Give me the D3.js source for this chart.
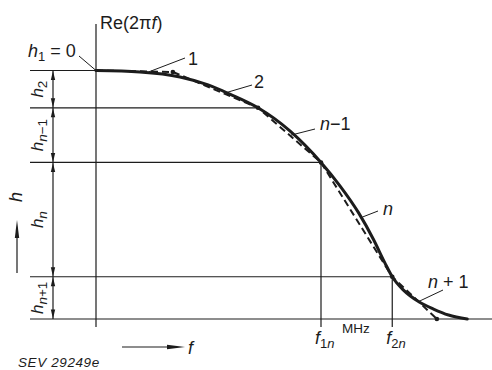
<!DOCTYPE html>
<html>
<head>
<meta charset="utf-8">
<script src="https://cdn.jsdelivr.net/npm/d3@7"></script>
<style>
  body { margin: 0; background: #fff; }
  svg { display: block; }
  text { font-family: "Liberation Sans", "DejaVu Sans", sans-serif; fill: #1c1c1c; }
</style>
</head>
<body>
<script>
// Real part of the transfer function Re(2πf) against frequency f (arbitrary MHz units)
const freq     = [0, 1.17, 2.24, 2.99, 3.57, 4.32, 5.17, 6.0, 6.5, 7.0, 7.4, 7.7, 7.9, 8.2, 8.6, 9.0, 9.4, 9.9];
const response = [1, 0.994, 0.974, 0.942, 0.905, 0.85, 0.757, 0.63, 0.537, 0.428, 0.32, 0.227, 0.17, 0.116, 0.07, 0.04, 0.016, 0];

// Straight-line segments 1, 2, …, n−1, n, n+1 approximating the curve
const approxFreq = [0, 2.05, 4.32, 6.0, 7.9, 9.09];
const approxResp = [1, 0.994, 0.85, 0.63, 0.17, 0];

// Step levels h1 = 0 … and where each level meets the curve
const levels    = [1, 0.85, 0.63, 0.17, 0];
const levelFreq = [0, 4.32, 6.0, 7.9, 10.6];
const stepNames = ["2", "n−1", "n", "n+1"];

// Marked frequencies on the f axis
const markFreq  = [6.0, 7.9];
const markLevel = [0.63, 0.17];
const markNames = ["1n", "2n"];

const W = 492, H = 370;
const svg = d3.select("body").append("svg").attr("width", W).attr("height", H);

const x = d3.scaleLinear().domain([0, 10]).range([96, 471]);
const y = d3.scaleLinear().domain([0, 1]).range([319, 70.5]);

const ink = "#1c1c1c";
const thin = 1.2;

// level lines
levels.forEach((lv, i) => {
  svg.append("line")
    .attr("x1", 30).attr("x2", x(levelFreq[i]))
    .attr("y1", y(lv)).attr("y2", y(lv))
    .attr("stroke", ink).attr("stroke-width", thin);
});

// Re axis
svg.append("line")
  .attr("x1", x(0)).attr("x2", x(0))
  .attr("y1", 24).attr("y2", y(0) + 8)
  .attr("stroke", ink).attr("stroke-width", thin);

// frequency marks
markFreq.forEach((f, i) => {
  svg.append("line")
    .attr("x1", x(f)).attr("x2", x(f))
    .attr("y1", y(markLevel[i])).attr("y2", y(0) + 8)
    .attr("stroke", ink).attr("stroke-width", thin);
});

// filled arrowhead helper: tip at (tx,ty), direction (dx,dy)
function arrowHead(g, tx, ty, dx, dy, len, half) {
  const bx = tx - dx * len, by = ty - dy * len;
  const px = -dy * half, py = dx * half;
  g.append("path")
    .attr("d", `M${tx},${ty}L${bx + px},${by + py}L${bx - px},${by - py}Z`)
    .attr("fill", ink);
}

// dimension line with step heights
const dimX = 53;
svg.append("line")
  .attr("x1", dimX).attr("x2", dimX)
  .attr("y1", y(levels[0])).attr("y2", y(levels[levels.length - 1]))
  .attr("stroke", ink).attr("stroke-width", thin);
for (let i = 0; i < levels.length - 1; i++) {
  const yTop = y(levels[i]), yBot = y(levels[i + 1]);
  arrowHead(svg, dimX, yTop + 0.5, 0, -1, 9, 2.2);
  arrowHead(svg, dimX, yBot - 0.5, 0, 1, 9, 2.2);
  const t = svg.append("text")
    .attr("transform", `translate(43,${(yTop + yBot) / 2}) rotate(-90)`)
    .attr("text-anchor", "middle")
    .attr("font-size", 17);
  t.append("tspan").attr("font-style", "italic").text("h");
  const sub = stepNames[i];
  const st = t.append("tspan").attr("font-size", 13.5).attr("dy", 4);
  if (sub.startsWith("n")) {
    st.append("tspan").attr("font-style", "italic").text("n");
    if (sub.length > 1) st.append("tspan").text(sub.slice(1));
  } else {
    st.text(sub);
  }
}

// polygonal approximation (dashed)
const approx = approxFreq.map((f, i) => ({ f, r: approxResp[i] }));
svg.append("path")
  .datum(approx)
  .attr("d", d3.line().x(d => x(d.f)).y(d => y(d.r)))
  .attr("fill", "none").attr("stroke", ink)
  .attr("stroke-width", 2).attr("stroke-dasharray", "7,4");
svg.selectAll("circle.vertex")
  .data(approx.slice(1))
  .join("circle")
  .attr("class", "vertex")
  .attr("cx", d => x(d.f)).attr("cy", d => y(d.r))
  .attr("r", 2.3).attr("fill", ink);

// response curve (solid)
const curve = freq.map((f, i) => ({ f, r: response[i] }));
svg.append("path")
  .datum(curve)
  .attr("d", d3.line().x(d => x(d.f)).y(d => y(d.r)).curve(d3.curveMonotoneX))
  .attr("fill", "none").attr("stroke", ink)
  .attr("stroke-width", 3).attr("stroke-linecap", "round");

// leader lines from labels to the curves
const leaders = [
  { from: [79, 56],  to: [x(0), y(1)] },
  { from: [185, 58], to: [x(1.4), y(0.994)] },
  { from: [252, 85], to: [x(3.45), y(0.91)] },
  { from: [315, 129], to: [x(5.2), y(0.74)] },
  { from: [378, 211], to: [x(7.1), y(0.41)] },
  { from: [443, 290], to: [x(8.6), y(0.07)] }
];
leaders.forEach(l => {
  svg.append("line")
    .attr("x1", l.from[0]).attr("y1", l.from[1])
    .attr("x2", l.to[0]).attr("y2", l.to[1])
    .attr("stroke", ink).attr("stroke-width", 1);
});

// labels
function label(px, py, parts, size) {
  const t = svg.append("text").attr("x", px).attr("y", py).attr("font-size", size || 17);
  parts.forEach(p => {
    const s = t.append("tspan").text(p.t);
    if (p.i) s.attr("font-style", "italic");
    if (p.s) s.attr("font-size", p.s);
    if (p.dy) s.attr("dy", p.dy);
  });
  return t;
}

label(100, 29, [{ t: "Re(2π" }, { t: "f", i: 1 }, { t: ")" }], 18);
label(28, 57, [{ t: "h", i: 1 }, { t: "1", s: 13, dy: 4 }, { t: " = 0", dy: -4 }], 18);
label(188, 65, [{ t: "1" }], 18);
label(254, 88, [{ t: "2" }], 18);
label(320, 130, [{ t: "n", i: 1 }, { t: "−1" }], 18);
label(383, 215, [{ t: "n", i: 1 }], 18);
label(428, 288, [{ t: "n", i: 1 }, { t: " + 1" }], 18);
label(342, 333, [{ t: "MHz" }], 13.5);

markFreq.forEach((f, i) => {
  const nm = markNames[i];
  label(x(f) - 6, 344, [
    { t: "f", i: 1 },
    { t: nm[0], s: 13, dy: 4 },
    { t: nm.slice(1), s: 13, i: 1 }
  ], 18);
});

// f direction arrow
svg.append("line").attr("x1", 122).attr("x2", 175).attr("y1", 347).attr("y2", 347)
  .attr("stroke", ink).attr("stroke-width", thin);
arrowHead(svg, 185, 347, 1, 0, 18, 2.2);
label(188, 354, [{ t: "f", i: 1 }], 18);

// h direction arrow
svg.append("line").attr("x1", 17).attr("x2", 17).attr("y1", 273).attr("y2", 230)
  .attr("stroke", ink).attr("stroke-width", thin);
arrowHead(svg, 17, 220, 0, -1, 18, 2.2);
svg.append("text")
  .attr("transform", "translate(22,197) rotate(-90)")
  .attr("text-anchor", "middle")
  .attr("font-size", 18).attr("font-style", "italic")
  .text("h");

label(18, 367, [{ t: "SEV 29249e", i: 1 }], 13.5).attr("letter-spacing", 0.6);
</script>
</body>
</html>
